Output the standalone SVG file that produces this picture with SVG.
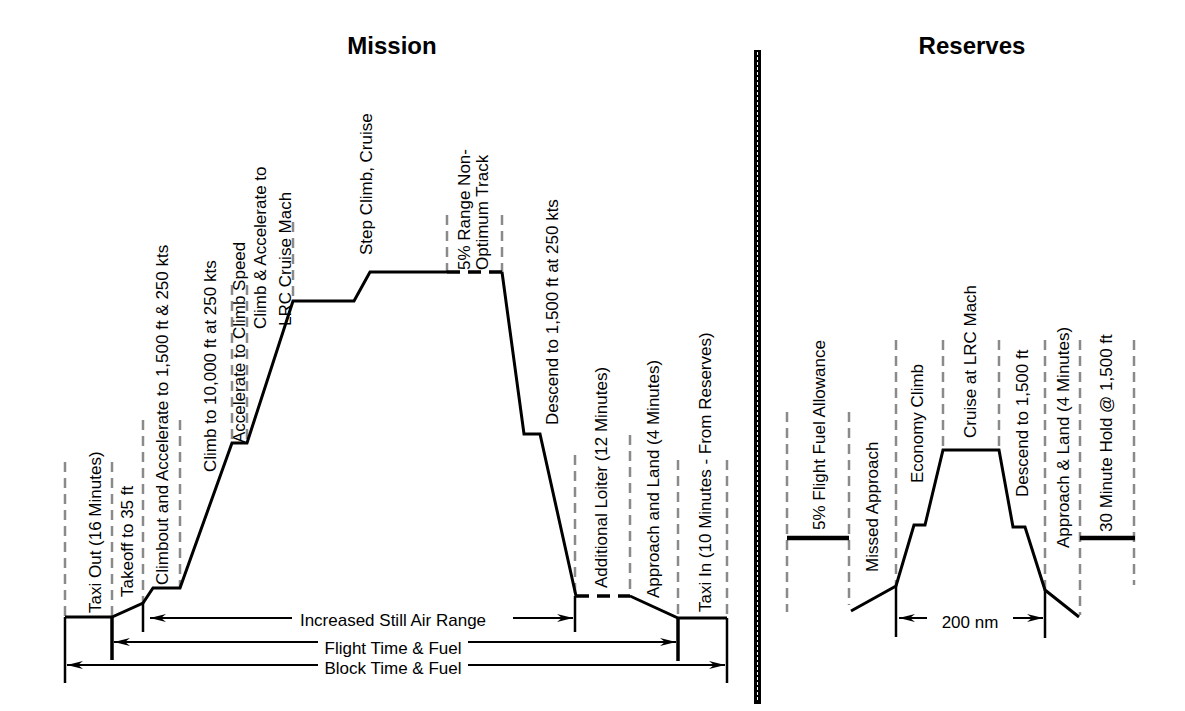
<svg xmlns="http://www.w3.org/2000/svg" width="1185" height="711" viewBox="0 0 1185 711">
<style>
text{font-family:"Liberation Sans",Arial,sans-serif;font-size:17px;fill:#000}
.title{font-size:24px;font-weight:bold}
.c{text-anchor:middle}
.g{stroke:#8a8a8a;stroke-width:2.5;stroke-dasharray:10 6;fill:none}
.p{stroke:#000;stroke-width:3;fill:none;stroke-linejoin:miter}
.pd{stroke:#000;stroke-width:3.5;fill:none;stroke-dasharray:13 8}
.v{stroke:#000;stroke-width:2.5;fill:none}
.vt{stroke:#000;stroke-width:3.5;fill:none}
.a{stroke:#000;stroke-width:2;fill:none;marker-end:url(#ah)}
.bar{stroke:#000;stroke-width:4.5;fill:none}
</style>
<defs>
<marker id="ah" viewBox="0 0 16 8" refX="16" refY="4" markerWidth="16" markerHeight="8" markerUnits="userSpaceOnUse" orient="auto">
<path d="M0,0 L16,4 L0,8 L5,4 Z" fill="#000"/>
</marker>
</defs>
<rect width="1185" height="711" fill="#fff"/>

<g id="titles">
<text class="title c" x="392" y="54">Mission</text>
<text class="title c" x="972" y="54">Reserves</text>
</g>

<g id="divider">
<rect x="754" y="50" width="7" height="654" fill="#000"/>
<line x1="757.5" y1="52" x2="757.5" y2="702" stroke="#fff" stroke-width="1" stroke-dasharray="3 2"/>
</g>

<g id="mission-guides">
<line class="g" x1="65" y1="462" x2="65" y2="617"/>
<line class="g" x1="112" y1="462" x2="112" y2="617"/>
<line class="g" x1="143" y1="420" x2="143" y2="603"/>
<line class="g" x1="180" y1="420" x2="180" y2="588"/>
<line class="g" x1="232" y1="285" x2="232" y2="443"/>
<line class="g" x1="247" y1="285" x2="247" y2="443"/>
<line class="g" x1="293" y1="222" x2="293" y2="301"/>
<line class="g" x1="447" y1="215" x2="447" y2="272"/>
<line class="g" x1="502" y1="215" x2="502" y2="272"/>
<line class="g" x1="575" y1="455" x2="575" y2="596"/>
<line class="g" x1="630" y1="435" x2="630" y2="596"/>
<line class="g" x1="678" y1="460" x2="678" y2="618"/>
<line class="g" x1="727" y1="460" x2="727" y2="618"/>
</g>

<g id="mission-profile">
<path class="p" d="M65,617 L112,617 L143,603 L153,588 L180,588 L232,443 L247,443 L293,301 L354,301 L370,272 L447,272"/>
<path class="pd" d="M447,272 L502,272"/>
<path class="p" d="M502,272 L524,434 L540,434 L576,596"/>
<path class="pd" d="M576,596 L630,596"/>
<path class="p" d="M630,596 L678,618 L727,618"/>
<line class="v" x1="65" y1="617" x2="65" y2="683"/>
<line class="vt" x1="112" y1="617" x2="112" y2="660"/>
<line class="v" x1="143" y1="603" x2="143" y2="632"/>
<line class="v" x1="575" y1="596" x2="575" y2="632"/>
<line class="vt" x1="678" y1="618" x2="678" y2="661"/>
<line class="v" x1="727" y1="618" x2="727" y2="683"/>
</g>

<g id="mission-labels">
<text transform="translate(101,613) rotate(-90)">Taxi Out (16 Minutes)</text>
<text transform="translate(133,597) rotate(-90)">Takeoff to 35 ft</text>
<text transform="translate(168,585) rotate(-90)">Climbout and Accelerate to 1,500 ft &amp; 250 kts</text>
<text transform="translate(216,472) rotate(-90)">Climb to 10,000 ft at 250 kts</text>
<text transform="translate(245,443) rotate(-90)">Accelerate to Climb Speed</text>
<text transform="translate(266,329) rotate(-90)">Climb &amp; Accelerate to</text>
<text transform="translate(291,326) rotate(-90)">LRC Cruise Mach</text>
<text transform="translate(372,255) rotate(-90)">Step Climb, Cruise</text>
<text transform="translate(470,270) rotate(-90)">5% Range Non-</text>
<text transform="translate(488,270) rotate(-90)">Optimum Track</text>
<text transform="translate(558,425) rotate(-90)">Descend to 1,500 ft at 250 kts</text>
<text transform="translate(607,588) rotate(-90)">Additional Loiter (12 Minutes)</text>
<text transform="translate(659,598) rotate(-90)">Approach and Land (4 Minutes)</text>
<text transform="translate(711,612) rotate(-90)">Taxi In (10 Minutes - From Reserves)</text>
</g>

<g id="mission-spans">
<line class="a" x1="292" y1="618" x2="150" y2="618"/>
<line class="a" x1="513" y1="618" x2="573" y2="618"/>
<text class="c" x="393" y="626">Increased Still Air Range</text>
<line class="a" x1="318" y1="642" x2="114" y2="642"/>
<line class="a" x1="468" y1="642" x2="676" y2="642"/>
<text class="c" x="393" y="654">Flight Time &amp; Fuel</text>
<line class="a" x1="318" y1="665" x2="67" y2="665"/>
<line class="a" x1="468" y1="665" x2="725" y2="665"/>
<text class="c" x="393" y="674">Block Time &amp; Fuel</text>
</g>

<g id="reserve-guides">
<line class="g" x1="787" y1="412" x2="787" y2="612"/>
<line class="g" x1="849" y1="412" x2="849" y2="605"/>
<line class="g" x1="896" y1="340" x2="896" y2="586"/>
<line class="g" x1="943" y1="340" x2="943" y2="450"/>
<line class="g" x1="999" y1="340" x2="999" y2="450"/>
<line class="g" x1="1045" y1="340" x2="1045" y2="590"/>
<line class="g" x1="1080" y1="340" x2="1080" y2="615"/>
<line class="g" x1="1134" y1="340" x2="1134" y2="585"/>
</g>

<g id="reserve-profile">
<line class="bar" x1="787" y1="538" x2="849" y2="538"/>
<path class="p" d="M851,611 L896,586 L914,525 L925,525 L943,450 L999,450 L1013,527 L1025,527 L1045,590 L1079,617"/>
<line class="bar" x1="1080" y1="538" x2="1135" y2="538"/>
<line class="v" x1="896" y1="586" x2="896" y2="637"/>
<line class="v" x1="1045" y1="590" x2="1045" y2="638"/>
</g>

<g id="reserve-labels">
<text transform="translate(825,530) rotate(-90)">5% Flight Fuel Allowance</text>
<text transform="translate(878,572) rotate(-90)">Missed Approach</text>
<text transform="translate(923,483) rotate(-90)">Economy Climb</text>
<text transform="translate(976,438) rotate(-90)">Cruise at LRC Mach</text>
<text transform="translate(1028,497) rotate(-90)">Descend to 1,500 ft</text>
<text transform="translate(1069,548) rotate(-90)">Approach &amp; Land (4 Minutes)</text>
<text transform="translate(1112,532) rotate(-90)">30 Minute Hold @ 1,500 ft</text>
</g>

<g id="reserve-span">
<line class="a" x1="927" y1="618" x2="899" y2="618"/>
<line class="a" x1="1013" y1="618" x2="1043" y2="618"/>
<text class="c" x="970" y="628">200 nm</text>
</g>
</svg>
